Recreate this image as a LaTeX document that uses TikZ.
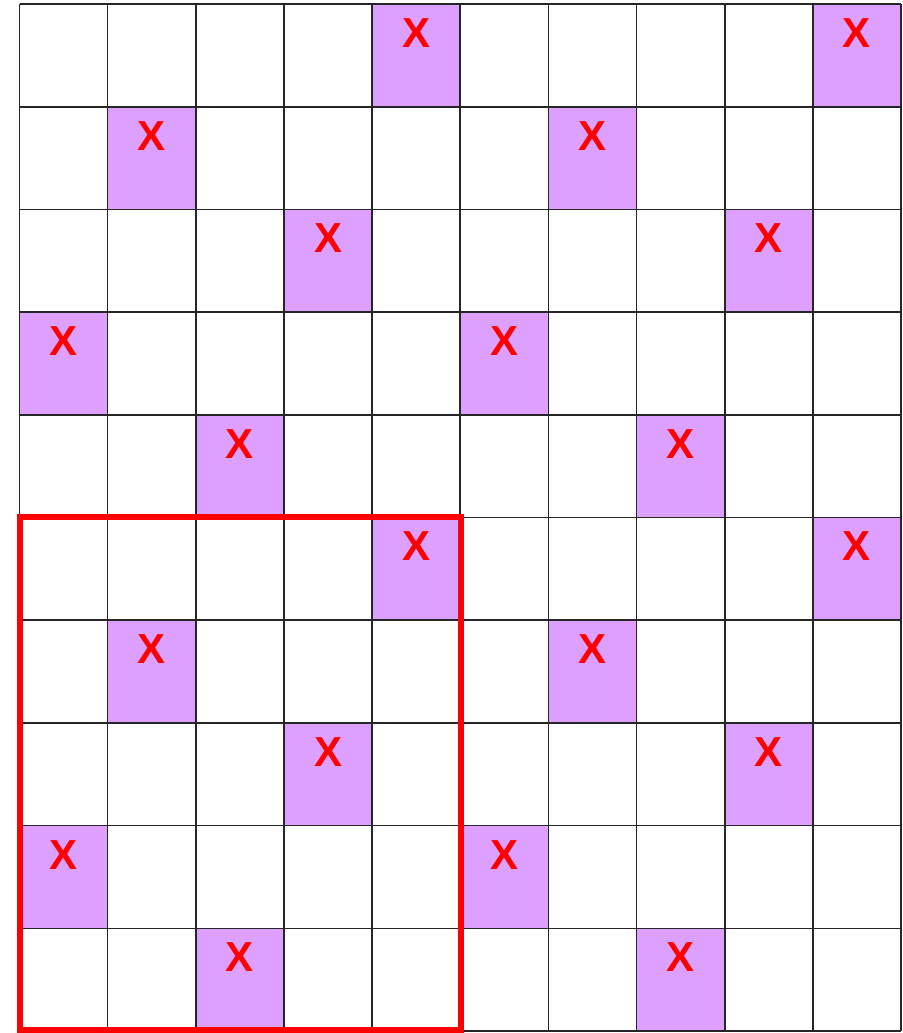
\documentclass[tikz,border=0pt]{standalone}
\usepackage{fontspec}
\setmainfont{Liberation Sans}
\definecolor{cellpurple}{RGB}{221,160,255}
\definecolor{xred}{RGB}{255,0,0}
\begin{document}
\begin{tikzpicture}[x=1pt,y=-1pt,
  gridline/.style={draw=black!85,line width=1.6pt},
  markcell/.style={fill=cellpurple},
  xmark/.style={text=xred,font=\fontsize{42}{42}\selectfont\bfseries,inner sep=0pt,anchor=center},
  redframe/.style={draw=xred,line width=6pt}]
\useasboundingbox (0,0) rectangle (902,1033);
\def\cw{88.15}\def\rh{102.7}\def\gx{19.5}\def\gy{4}
\foreach \r/\c in {0/4,0/9,1/1,1/6,2/3,2/8,3/0,3/5,4/2,4/7,5/4,5/9,6/1,6/6,7/3,7/8,8/0,8/5,9/2,9/7} {
  \fill[markcell] ({\gx+\c*\cw},{\gy+\r*\rh}) rectangle ++(\cw,\rh);
  \node[xmark] (x-\r-\c) at ({\gx+(\c+0.5)*\cw},{\gy+\r*\rh+29}) {X};
}
\foreach \i in {0,...,10} {
  \draw[gridline] ({\gx+\i*\cw},\gy) -- ++(0,{10*\rh});
  \draw[gridline] (\gx,{\gy+\i*\rh}) -- ++({10*\cw},0);
}
\draw[redframe] (19.5,517) rectangle (460.5,1030);
\end{tikzpicture}
\end{document}
